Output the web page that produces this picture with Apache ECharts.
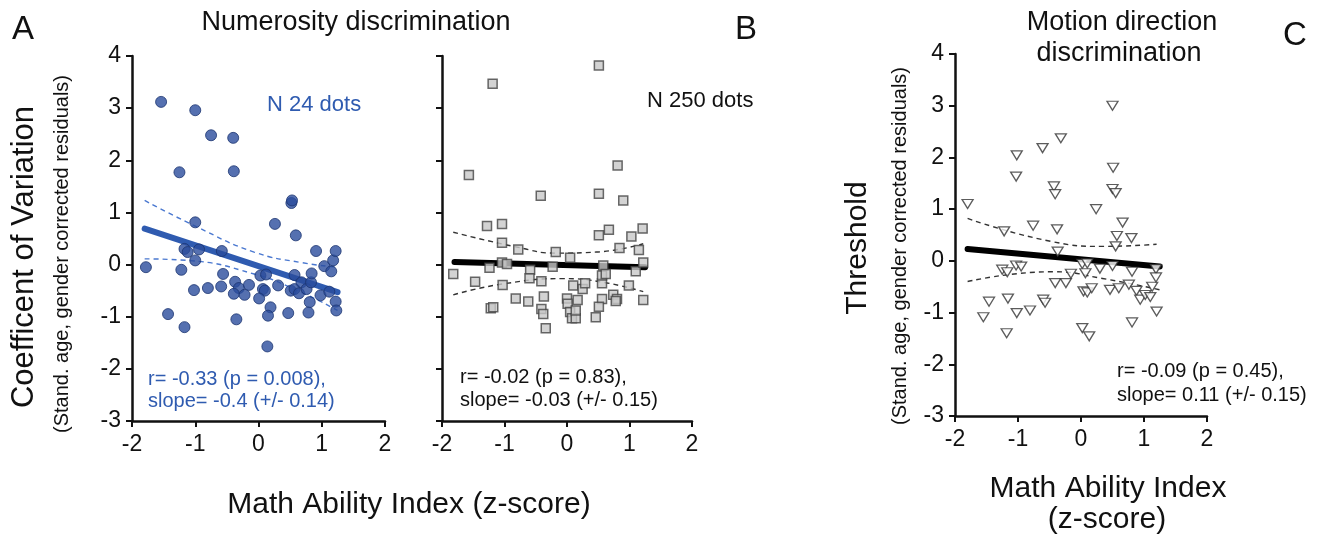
<!DOCTYPE html>
<html>
<head>
<meta charset="utf-8">
<script src="https://cdn.jsdelivr.net/npm/echarts@6/dist/echarts.min.js"></script>
<style>
html, body { margin: 0; padding: 0; background: #fff; }
#chart { width: 1327px; height: 542px; }
</style>
</head>
<body>
<div id="chart"></div>
<script>
// panel A: N 24 dots (x = math z-score, y = CV residual)
var numA = [
	[-1.54, 3.12], [-1.00, 2.96], [-0.75, 2.48], [-0.40, 2.43], [-1.25, 1.77], [-0.39, 1.79],
	[0.52, 1.18], [0.53, 1.23], [0.26, 0.78], [-1.00, 0.81], [0.59, 0.56],
	[-1.78, -0.05], [-1.17, 0.30], [-1.12, 0.24], [-0.94, 0.29], [-0.58, 0.26], [-1.00, 0.08],
	[-1.22, -0.10], [-1.02, -0.49], [-0.80, -0.45], [-0.59, -0.42], [-0.56, -0.18], [-0.37, -0.33],
	[-0.31, -0.45], [-0.39, -0.56], [-0.22, -0.58], [-0.15, -0.39], [-1.43, -0.95], [-1.17, -1.20],
	[-0.35, -1.05], [0.03, -0.21], [0.12, -0.19], [0.07, -0.47], [0.10, -0.50], [0.01, -0.65],
	[0.19, -0.82], [0.15, -0.98], [0.14, -1.57], [0.31, -0.40], [0.47, -0.93], [0.51, -0.50],
	[0.57, -0.47], [0.57, -0.20], [0.64, -0.55], [0.68, -0.34], [0.76, -0.47], [0.83, -0.34],
	[0.84, -0.17], [0.81, -0.72], [0.79, -0.92], [0.91, 0.26], [1.04, -0.03], [0.98, -0.59],
	[1.12, -0.52], [1.15, -0.13], [1.18, 0.08], [1.22, 0.26], [1.22, -0.71], [1.23, -0.88]
];
var fitA = [[-1.8, 0.69], [1.25, -0.53]];
var upA = [[-1.8, 1.23], [-0.97, 0.72], [-0.07, 0.24], [0.67, 0.04], [1.25, -0.05]];
var loA = [[-1.8, 0.11], [-1.13, 0.08], [-0.07, -0.18], [0.67, -0.53], [1.25, -0.88]];

// panel B: N 250 dots
var numB = [
	[0.51, 3.82], [-1.19, 3.47], [-1.57, 1.72], [0.81, 1.90], [-0.42, 1.32], [0.51, 1.36], [0.90, 1.23],
	[-1.28, 0.74], [-1.04, 0.78], [0.51, 0.56], [0.67, 0.67], [1.03, 0.54], [1.21, 0.69],
	[-1.04, 0.42], [-0.78, 0.29], [-0.18, 0.24], [0.05, 0.13], [0.84, 0.32], [1.15, 0.28],
	[-1.82, -0.18], [-1.47, -0.33], [-1.24, -0.06], [-1.04, 0.04], [-0.96, 0.01], [-0.59, -0.10],
	[-0.60, -0.26], [-0.41, -0.32], [-0.23, -0.04], [-1.03, -0.39], [-0.82, -0.65], [-0.62, -0.71],
	[-1.22, -0.84], [-1.18, -0.82], [-0.37, -0.61], [-0.41, -0.85], [-0.38, -0.95], [-0.34, -1.22],
	[0.00, -0.65], [0.01, -0.75], [0.05, -0.91], [0.08, -1.03], [0.14, -1.03], [0.14, -0.88],
	[0.17, -0.68], [0.10, -0.40], [0.25, -0.47], [0.29, -0.36], [0.56, -0.36], [0.56, -0.66],
	[0.51, -0.81], [0.46, -1.01], [0.58, -0.02], [0.56, -0.21], [0.62, -0.18], [0.74, -0.58],
	[0.80, -0.66], [0.78, -0.70], [0.99, -0.40], [1.10, -0.13], [1.22, 0.04], [1.22, -0.68]
];
var fitB = [[-1.8, 0.05], [1.25, -0.05]];
var upB = [[-1.82, 0.62], [-0.78, 0.33], [-0.18, 0.22], [0.47, 0.24], [1.22, 0.40]];
var loB = [[-1.82, -0.58], [-1.02, -0.37], [-0.06, -0.27], [0.58, -0.34], [1.22, -0.52]];

// panel C: motion direction thresholds
var motC = [
	[0.50, 3.00], [-0.32, 2.37], [-0.61, 2.18], [-1.02, 2.04], [-1.03, 1.63], [0.51, 1.80],
	[-0.43, 1.44], [-0.41, 1.29], [0.50, 1.39], [0.55, 1.31], [-1.80, 1.10], [0.24, 1.00],
	[-0.76, 0.68], [-0.38, 0.61], [-1.22, 0.57], [0.66, 0.74], [0.57, 0.48], [0.80, 0.44],
	[0.55, 0.28], [-0.37, 0.18], [-1.25, -0.17], [-1.17, -0.22], [-1.03, -0.09], [-0.95, -0.11],
	[-1.46, -0.79], [-1.55, -1.09], [-1.16, -0.73], [-1.02, -1.01], [-0.81, -0.96], [-1.18, -1.40],
	[-0.60, -0.75], [-0.57, -0.81], [-0.41, -0.43], [-0.24, -0.43], [-0.16, -0.25], [0.02, -0.06],
	[0.10, -0.05], [0.07, -0.24], [0.30, -0.15], [0.50, -0.10], [0.04, -0.59], [0.10, -0.61],
	[0.17, -0.53], [0.46, -0.56], [0.60, -0.53], [0.02, -1.30], [0.13, -1.46], [0.76, -0.46],
	[0.81, -0.21], [0.88, -0.58], [0.94, -0.75], [1.02, -0.66], [1.10, -0.70], [1.13, -0.50],
	[1.19, -0.16], [1.19, -0.32], [1.20, -0.98], [0.81, -1.19]
];
var fitC = [[-1.8, 0.23], [1.25, -0.11]];
var upC = [[-1.8, 0.82], [-0.45, 0.37], [0.34, 0.28], [1.2, 0.32]];
var loC = [[-1.8, -0.40], [-0.45, -0.21], [0.34, -0.34], [1.25, -0.56]];

var xTicks = [-2, -1, 0, 1, 2];
var yTicks = [-3, -2, -1, 0, 1, 2, 3, 4];

var FONT = "'Liberation Sans', Arial, sans-serif";
var BLUE = '#2f5bb0';
var myChart = echarts.init(document.getElementById('chart'));

function xAx(idx) {
	return {
		gridIndex: idx, type: 'value', min: xTicks[0], max: xTicks[xTicks.length - 1], interval: 1,
		axisLine: {show: true, onZero: false, lineStyle: {color: '#111', width: 2.5}},
		axisTick: {show: true, length: 6, lineStyle: {color: '#111', width: 2}},
		axisLabel: {show: true, margin: 12, fontSize: 23, color: '#111', fontFamily: FONT},
		splitLine: {show: false}
	};
}
function yAx(idx, labels) {
	return {
		gridIndex: idx, type: 'value', min: yTicks[0], max: yTicks[yTicks.length - 1], interval: 1,
		axisLine: {show: true, onZero: false, lineStyle: {color: '#111', width: 2.5}},
		axisTick: {show: true, length: 6, lineStyle: {color: '#111', width: 2}},
		axisLabel: {show: labels, margin: 11, fontSize: 23, color: '#111', fontFamily: FONT},
		splitLine: {show: false}
	};
}
function band(idx, data, color) {
	return {
		type: 'line', xAxisIndex: idx, yAxisIndex: idx, data: data, smooth: true,
		symbol: 'none', silent: true, z: 2,
		lineStyle: {color: color, width: 1.4, type: [5, 4]}
	};
}
function fit(idx, data, color) {
	return {
		type: 'line', xAxisIndex: idx, yAxisIndex: idx, data: data,
		symbol: 'none', silent: true, z: 3,
		lineStyle: {color: color, width: 6, cap: 'round'}
	};
}
function txt(x, y, s, size, color, align, rot) {
	return {
		type: 'text', x: x, y: y, rotation: rot || 0,
		style: {
			text: s, fontSize: size, fontFamily: FONT, fill: color || '#111',
			align: align || 'left', verticalAlign: 'middle'
		}
	};
}

var option = {
	animation: false,
	backgroundColor: '#fff',
	grid: [
		{left: 132, top: 56, width: 253, height: 365},
		{left: 442, top: 56, width: 250, height: 365},
		{left: 955, top: 54, width: 252, height: 362}
	],
	xAxis: [xAx(0), xAx(1), xAx(2)],
	yAxis: [yAx(0, true), yAx(1, false), yAx(2, true)],
	series: [
		band(0, upA, '#4a78d0'), band(0, loA, '#4a78d0'), fit(0, fitA, BLUE),
		{
			type: 'scatter', xAxisIndex: 0, yAxisIndex: 0, data: numA, symbol: 'circle', symbolSize: 11, z: 5,
			itemStyle: {color: '#2b4c9c', borderColor: '#1c3470', borderWidth: 1}
		},
		band(1, upB, '#333'), band(1, loB, '#333'), fit(1, fitB, '#000'),
		{
			type: 'scatter', xAxisIndex: 1, yAxisIndex: 1, data: numB, symbol: 'rect', symbolSize: 9, z: 5,
			itemStyle: {color: '#c8c8c8', borderColor: '#444', borderWidth: 1.5}
		},
		band(2, upC, '#333'), band(2, loC, '#333'), fit(2, fitC, '#000'),
		{
			type: 'scatter', xAxisIndex: 2, yAxisIndex: 2, data: motC, symbol: 'triangle',
			symbolRotate: 180, symbolSize: [11, 9], z: 5,
			itemStyle: {color: '#fff', borderColor: '#333', borderWidth: 1.3}
		}
	],
	graphic: [
		txt(12, 30, 'A', 33),
		txt(735, 30, 'B', 33),
		txt(1283, 36, 'C', 33),
		txt(356, 23, 'Numerosity discrimination', 27, '#111', 'center'),
		txt(1122, 23, 'Motion direction', 27, '#111', 'center'),
		txt(1119, 54, 'discrimination', 27, '#111', 'center'),
		txt(24, 257, 'Coefficent of Variation', 31, '#111', 'center', Math.PI / 2),
		txt(62, 254, '(Stand. age, gender corrected residuals)', 20, '#111', 'center', Math.PI / 2),
		txt(858, 248, 'Threshold', 30, '#111', 'center', Math.PI / 2),
		txt(900, 246, '(Stand. age, gender corrected residuals)', 20, '#111', 'center', Math.PI / 2),
		txt(267, 105, 'N 24 dots', 22, BLUE),
		txt(647, 101, 'N 250 dots', 22, '#111'),
		txt(148, 379, 'r= -0.33 (p = 0.008),', 20, BLUE),
		txt(148, 401, 'slope= -0.4 (+/- 0.14)', 20, BLUE),
		txt(460, 377, 'r= -0.02 (p = 0.83),', 20, '#111'),
		txt(460, 400, 'slope= -0.03 (+/- 0.15)', 20, '#111'),
		txt(1117, 371, 'r= -0.09 (p = 0.45),', 20, '#111'),
		txt(1117, 395, 'slope= 0.11 (+/- 0.15)', 20, '#111'),
		txt(409, 505, 'Math Ability Index (z-score)', 30, '#111', 'center'),
		txt(1108, 489, 'Math Ability Index', 30, '#111', 'center'),
		txt(1107, 520, '(z-score)', 30, '#111', 'center')
	]
};

myChart.setOption(option);
</script>
</body>
</html>
